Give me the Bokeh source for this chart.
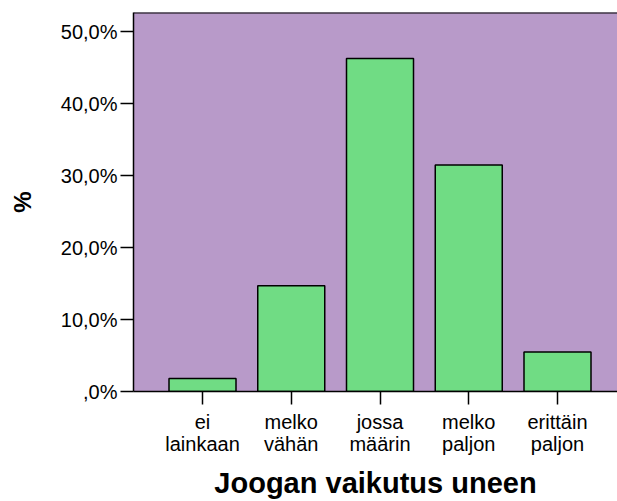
from bokeh.plotting import figure
from bokeh.models import FixedTicker, Span, Range1d
from bokeh.embed import file_html
from bokeh.resources import INLINE

categories = ["ei\nlainkaan", "melko\nvähän", "jossa\nmäärin", "melko\npaljon", "erittäin\npaljon"]
percent = [1.8, 14.7, 46.3, 31.5, 5.5]
y_ticks = [0, 10, 20, 30, 40, 50]
y_tick_labels = [",0%", "10,0%", "20,0%", "30,0%", "40,0%", "50,0%"]
x_title = "Joogan vaikutus uneen"
y_title = "%"

xs = list(range(1, len(categories) + 1))

PURPLE = "#B89AC9"
GREEN = "#70DC84"
FONT = "Liberation Sans"
Y_END = 52.7

p = figure(width=617, height=501, output_backend="svg", toolbar_location=None,
           x_range=Range1d(0.2225, 5.676), y_range=Range1d(0, Y_END),
           min_border_left=133, min_border_top=12, min_border_bottom=110, min_border_right=0)
p.outline_line_color = None
p.background_fill_color = PURPLE
p.border_fill_color = "white"
p.xgrid.grid_line_color = None
p.ygrid.grid_line_color = None

p.vbar(x=xs, top=percent, width=0.755, fill_color=GREEN, line_color="black", line_width=1.5)

p.add_layout(Span(location=Y_END, dimension="width", line_color="black", line_width=2))

p.xaxis.ticker = FixedTicker(ticks=xs)
p.xaxis.major_label_overrides = {x: c for x, c in zip(xs, categories)}
p.yaxis.ticker = FixedTicker(ticks=y_ticks)
p.yaxis.major_label_overrides = {t: l for t, l in zip(y_ticks, y_tick_labels)}

for ax in (p.xaxis, p.yaxis):
    ax.axis_line_color = "black"
    ax.axis_line_width = 1.5
    ax.major_tick_line_color = "black"
    ax.major_tick_line_width = 1.5
    ax.major_tick_out = 13
    ax.major_tick_in = 0
    ax.minor_tick_line_color = None
    ax.major_label_text_font = FONT
    ax.major_label_text_font_size = "20px"
    ax.major_label_text_color = "black"
    ax.axis_label_text_font = FONT
    ax.axis_label_text_font_style = "bold"
    ax.axis_label_text_color = "black"

p.xaxis.major_label_text_line_height = 1.0
p.xaxis.major_label_standoff = 6
p.yaxis.major_label_standoff = 3
p.yaxis.axis_label = y_title
p.yaxis.axis_label_text_font_size = "24px"
p.yaxis.axis_label_standoff = 22
p.xaxis.axis_label = x_title
p.xaxis.axis_label_text_font_size = "29px"
p.xaxis.axis_label_standoff = 9

open("out.html", "w").write(file_html(p, INLINE))
